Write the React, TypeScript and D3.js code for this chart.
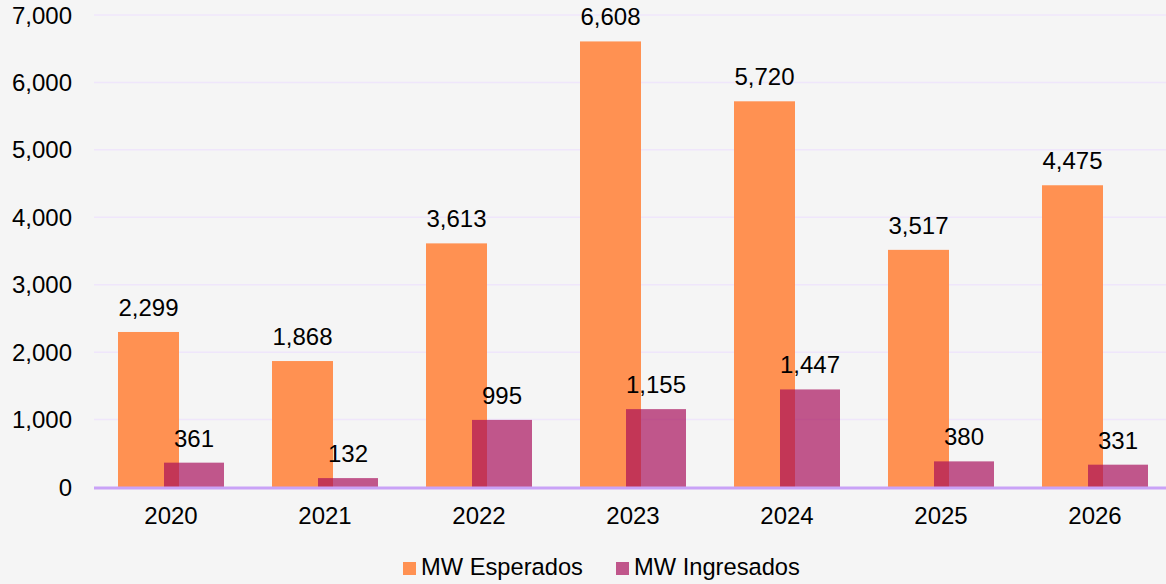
import React from "react";
import * as d3 from "d3";

const years = ["2020", "2021", "2022", "2023", "2024", "2025", "2026"];
const esperados = [2299, 1868, 3613, 6608, 5720, 3517, 4475];
const ingresados = [361, 132, 995, 1155, 1447, 380, 331];
const yTicks = [0, 1000, 2000, 3000, 4000, 5000, 6000, 7000];
const seriesNames = ["MW Esperados", "MW Ingresados"];

const W = 1166;
const H = 584;
const FONT = "Liberation Sans, Arial, sans-serif";

export default function App() {
  const x = d3.scaleBand().domain(years).range([94, 94 + 7 * 154]).padding(0);
  const y = d3.scaleLinear().domain([0, 7000]).range([487, 15]);
  const fmt = d3.format(",");
  const bw = 61;
  const mw = 60;
  const overlap = 15;
  const groupW = bw + mw - overlap;
  const orange = "#FF9152";
  const magenta = "rgb(167,10,88)";
  const magentaOpacity = 0.68;

  return (
    <svg
      width={W}
      height={H}
      style={{ position: "absolute", left: 0, top: 0, display: "block" }}
      fontFamily={FONT}
    >
      <rect x={0} y={0} width={W} height={H} fill="#F5F5F5" />
      {yTicks.map((t) => (
        <g key={t}>
          {t > 0 && (
            <line x1={94} x2={W} y1={y(t)} y2={y(t)} stroke="#EFE6FB" strokeWidth={1.5} />
          )}
          <text x={72} y={y(t)} dy="0.36em" textAnchor="end" fontSize={24} fill="#000">
            {fmt(t)}
          </text>
        </g>
      ))}
      {years.map((yr, i) => {
        const cx = (x(yr) as number) + x.bandwidth() / 2;
        const ox = cx - groupW / 2;
        const mx = ox + bw - overlap;
        return (
          <g key={yr}>
            <rect x={ox} y={y(esperados[i])} width={bw} height={y(0) - y(esperados[i])} fill={orange} />
            <rect
              x={mx}
              y={y(ingresados[i])}
              width={mw}
              height={y(0) - y(ingresados[i])}
              fill={magenta}
              fillOpacity={magentaOpacity}
            />
            <text x={ox + bw / 2} y={y(esperados[i]) - 16} textAnchor="middle" fontSize={24} fill="#000">
              {fmt(esperados[i])}
            </text>
            <text x={mx + mw / 2} y={y(ingresados[i]) - 16} textAnchor="middle" fontSize={24} fill="#000">
              {fmt(ingresados[i])}
            </text>
            <text x={cx} y={524} textAnchor="middle" fontSize={24} fill="#000">
              {yr}
            </text>
          </g>
        );
      })}
      <line x1={94} x2={W} y1={488} y2={488} stroke="#C9A2F7" strokeWidth={3} />
      <g>
        <rect x={403} y={562} width={13} height={13} fill={orange} />
        <text x={421} y={575} fontSize={23.7} fill="#000">{seriesNames[0]}</text>
        <rect x={616} y={562} width={13} height={13} fill={magenta} fillOpacity={magentaOpacity} />
        <text x={634} y={575} fontSize={23.7} fill="#000">{seriesNames[1]}</text>
      </g>
    </svg>
  );
}
